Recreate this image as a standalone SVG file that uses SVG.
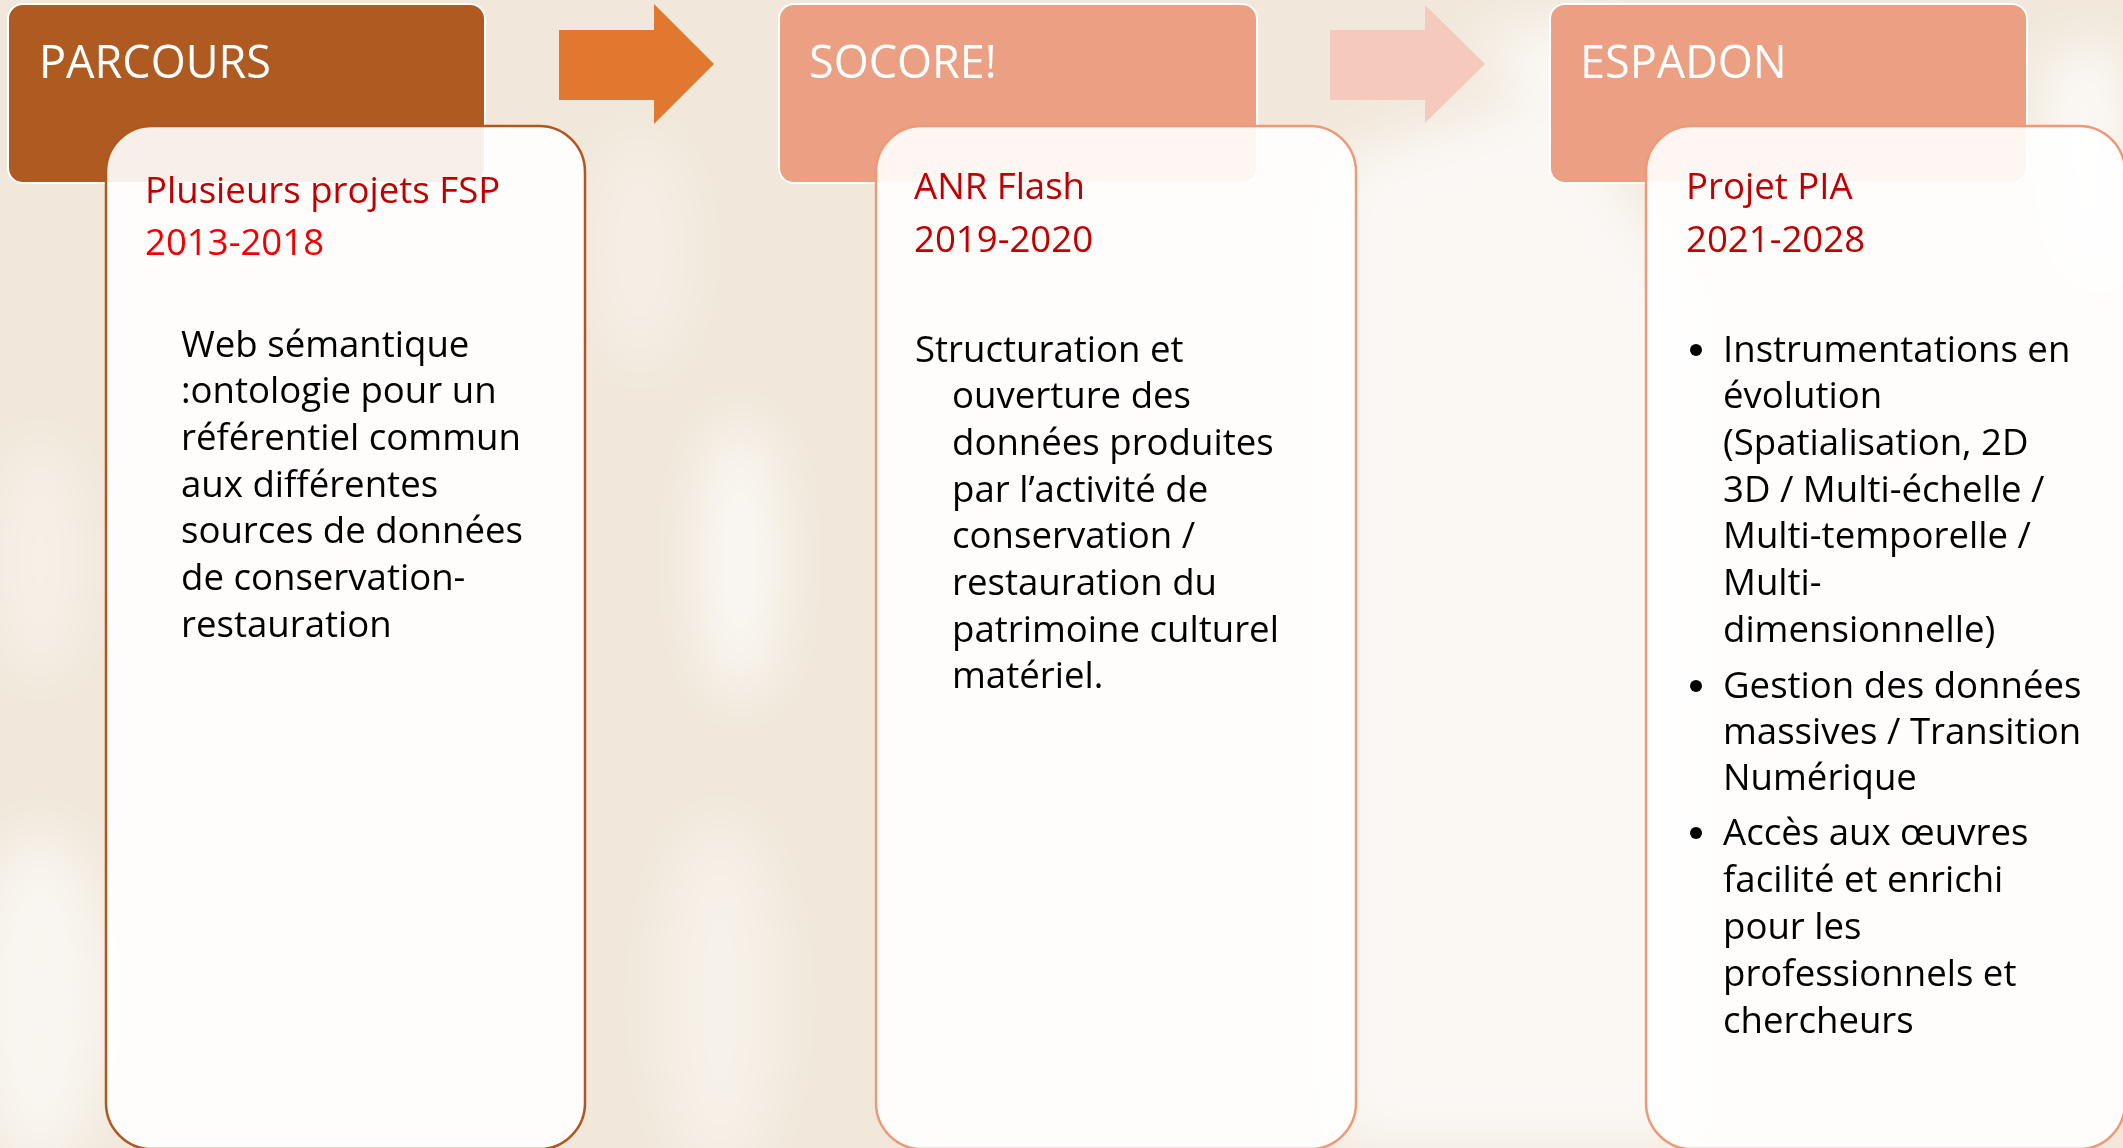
<svg xmlns="http://www.w3.org/2000/svg" width="2123" height="1148" viewBox="0 0 2123 1148">
  <style>
    .hdr-text { font-family: "Open Sans", "Liberation Sans", sans-serif; font-size: 45px; fill: #FFFFFF; }
    .sub { font-family: "Open Sans", "Liberation Sans", sans-serif; font-size: 36.6px; fill: #C00000; }
    .body { font-family: "Open Sans", "Liberation Sans", sans-serif; font-size: 36.6px; fill: #000000; }
    .card { fill: #FFFFFF; fill-opacity: 0.9; stroke-width: 2.5; }
    .hdr { stroke: #FFFFFF; stroke-width: 2; }
  </style>
  <defs>
    <filter id="soft" x="-50%" y="-50%" width="200%" height="200%">
      <feGaussianBlur stdDeviation="28"/>
    </filter>
  </defs>

  <!-- textured cream backdrop -->
  <g id="background">
    <rect x="0" y="0" width="2123" height="1148" fill="#F1E8DB"/>
    <g filter="url(#soft)">
      <path d="M1330 160 L1560 90 L1700 300 L1700 1148 L1330 1148 Z" fill="#FBF8F4"/>
      <path d="M1460 40 L1600 20 L1620 140 Z" fill="#FFFFFF" opacity="0.8"/>
      <path d="M2040 60 L2123 40 L2123 300 L2060 260 Z" fill="#FFFFFF" opacity="0.8"/>
      <ellipse cx="40" cy="1000" rx="70" ry="170" fill="#FFFFFF" opacity="0.6"/>
      <ellipse cx="40" cy="560" rx="40" ry="120" fill="#FFFFFF" opacity="0.4"/>
      <ellipse cx="740" cy="560" rx="40" ry="140" fill="#FFFFFF" opacity="0.7"/>
      <ellipse cx="720" cy="1000" rx="60" ry="180" fill="#FFFFFF" opacity="0.4"/>
      <ellipse cx="640" cy="250" rx="50" ry="120" fill="#FFFFFF" opacity="0.3"/>
    </g>
  </g>

  <!-- progression arrows between stages -->
  <g id="connectors">
    <polygon points="559,30 654,30 654,4 714,64 654,124 654,100 559,100" fill="#E07830"/>
    <polygon points="1330,30 1425,30 1425,5 1485,64 1425,123 1425,100 1330,100" fill="#F5CABD"/>
  </g>

  <!-- stage 1 -->
  <g id="node-parcours">
    <rect class="hdr" x="8" y="4" width="477" height="179" rx="15" fill="#AE5A21"/>
    <text class="hdr-text" x="39" y="78">PARCOURS</text>
    <rect class="card" x="106" y="126" width="479" height="1023" rx="46" stroke="#B0571E"/>
    <text class="sub" x="145" y="203">Plusieurs projets FSP</text>
    <text class="sub" x="145" y="255" style="fill:#F00000">2013-2018</text>
    <text class="body" x="181" y="357">Web sémantique</text>
    <text class="body" x="181" y="403">:ontologie pour un</text>
    <text class="body" x="181" y="450">référentiel commun</text>
    <text class="body" x="181" y="497">aux différentes</text>
    <text class="body" x="181" y="543">sources de données</text>
    <text class="body" x="181" y="590">de conservation-</text>
    <text class="body" x="181" y="637">restauration</text>
  </g>

  <!-- stage 2 -->
  <g id="node-socore">
    <rect class="hdr" x="779" y="4" width="478" height="179" rx="15" fill="#EBA083"/>
    <text class="hdr-text" x="809" y="78">SOCORE!</text>
    <rect class="card" x="876" y="126" width="480" height="1023" rx="46" stroke="#EE9977"/>
    <text class="sub" x="914" y="199">ANR Flash</text>
    <text class="sub" x="914" y="252">2019-2020</text>
    <text class="body" x="915" y="362">Structuration et</text>
    <text class="body" x="952" y="408">ouverture des</text>
    <text class="body" x="952" y="455">données produites</text>
    <text class="body" x="952" y="502">par l’activité de</text>
    <text class="body" x="952" y="548">conservation /</text>
    <text class="body" x="952" y="595">restauration du</text>
    <text class="body" x="952" y="642">patrimoine culturel</text>
    <text class="body" x="952" y="688">matériel.</text>
  </g>

  <!-- stage 3 -->
  <g id="node-espadon">
    <rect class="hdr" x="1550" y="4" width="477" height="179" rx="15" fill="#EBA083"/>
    <text class="hdr-text" x="1580" y="78">ESPADON</text>
    <rect class="card" x="1646" y="126" width="479" height="1023" rx="46" stroke="#EE9977"/>
    <text class="sub" x="1686" y="199">Projet PIA</text>
    <text class="sub" x="1686" y="252">2021-2028</text>
    <circle cx="1696" cy="350" r="6" fill="#000000"/>
    <text class="body" x="1723" y="362">Instrumentations en</text>
    <text class="body" x="1723" y="408">évolution</text>
    <text class="body" x="1723" y="455">(Spatialisation, 2D</text>
    <text class="body" x="1723" y="502">3D / Multi-échelle /</text>
    <text class="body" x="1723" y="548">Multi-temporelle /</text>
    <text class="body" x="1723" y="595">Multi-</text>
    <text class="body" x="1723" y="642">dimensionnelle)</text>
    <circle cx="1696" cy="686" r="6" fill="#000000"/>
    <text class="body" x="1723" y="698">Gestion des données</text>
    <text class="body" x="1723" y="744">massives / Transition</text>
    <text class="body" x="1723" y="790">Numérique</text>
    <circle cx="1696" cy="833" r="6" fill="#000000"/>
    <text class="body" x="1723" y="845">Accès aux œuvres</text>
    <text class="body" x="1723" y="892">facilité et enrichi</text>
    <text class="body" x="1723" y="939">pour les</text>
    <text class="body" x="1723" y="986">professionnels et</text>
    <text class="body" x="1723" y="1033">chercheurs</text>
  </g>
</svg>
